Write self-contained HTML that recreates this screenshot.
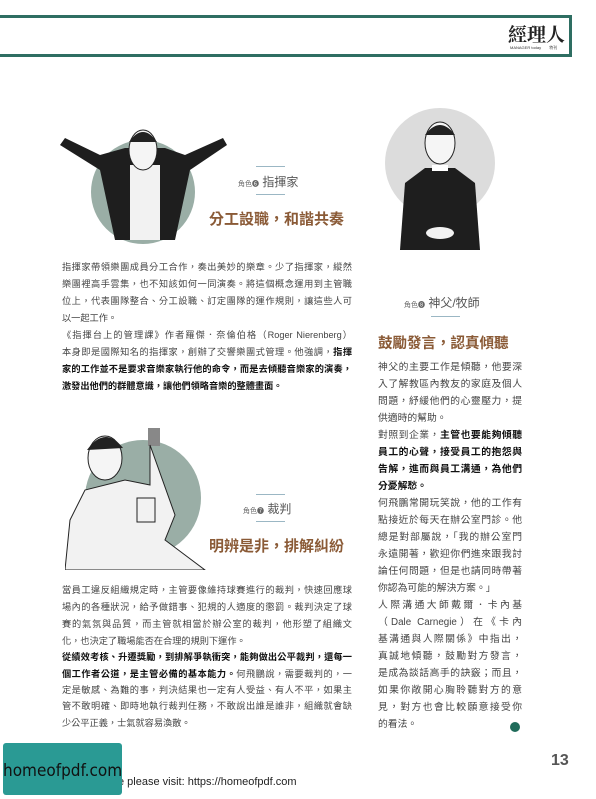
<!DOCTYPE html>
<html><head><meta charset="utf-8"><style>
*{margin:0;padding:0;box-sizing:border-box}
body{width:596px;height:794px;background:#fff;position:relative;overflow:hidden;font-family:"Liberation Sans","Noto Sans CJK TC",sans-serif;color:#444}
.abs{position:absolute}
.ln{position:absolute;white-space:nowrap;font-size:9.2px;text-align:justify;text-align-last:justify;line-height:14px;overflow:hidden}
.r .ln{font-size:9.8px}
.b{font-weight:bold;color:#111}
.h{position:absolute;font-size:15px;font-weight:bold;color:#8a5a36;white-space:nowrap}
.role{position:absolute;font-size:12px;color:#555;white-space:nowrap}
.role small{font-size:7px;color:#666}
.rule{position:absolute;height:1px;background:#9bb7c4}
</style></head><body>
<div class="abs" style="left:-4px;top:15px;width:576px;height:42px;border:3px solid #2e6e62"></div>
<div class="abs" style="left:508px;top:20px;font-size:19px;font-weight:bold;color:#222;font-family:'Noto Serif CJK SC',serif">經理人</div>
<div class="abs" style="left:510px;top:45px;font-size:4px;color:#333">MANAGER today　　特刊</div>

<svg class="abs" style="left:55px;top:120px" width="180" height="130">
<circle cx="88" cy="72" r="52" fill="#9aaea6"/>
<path d="M5 25 L45 50 L60 120 L120 120 L135 50 L172 25 L168 18 L130 35 L110 28 L70 28 L45 35 L10 18Z" fill="#1e1e1e"/>
<rect x="75" y="45" width="30" height="75" fill="#f2f2f2"/>
<ellipse cx="88" cy="30" rx="14" ry="20" fill="#f5f5f5" stroke="#222"/>
<path d="M74 22 Q88 2 102 22 Z" fill="#222"/>
</svg>
<div class="rule" style="left:256px;top:166px;width:29px"></div>
<div class="role" style="left:238px;top:173px"><small>角色❻</small> 指揮家</div>
<div class="rule" style="left:256px;top:194px;width:29px"></div>
<div class="h" style="left:209px;top:208px">分工設職，和諧共奏</div>

<div>
<div class="ln" style="left:62px;top:260px;width:290px">指揮家帶領樂團成員分工合作，奏出美妙的樂章。少了指揮家，縱然</div>
<div class="ln" style="left:62px;top:277px;width:290px">樂團裡高手雲集，也不知該如何一同演奏。將這個概念運用到主管職</div>
<div class="ln" style="left:62px;top:294px;width:290px">位上，代表團隊整合、分工設職、訂定團隊的運作規則，讓這些人可</div>
<div class="ln" style="left:62px;top:311px;text-align-last:left">以一起工作。</div>
<div class="ln" style="left:62px;top:328px;width:290px">《指揮台上的管理課》作者羅傑．奈倫伯格（Roger Nierenberg）</div>
<div class="ln" style="left:62px;top:345px;width:290px">本身即是國際知名的指揮家，創辦了交響樂團式管理。他強調，<span class="b">指揮</span></div>
<div class="ln b" style="left:62px;top:362px;width:290px">家的工作並不是要求音樂家執行他的命令，而是去傾聽音樂家的演奏，</div>
<div class="ln b" style="left:62px;top:379px;text-align-last:left">激發出他們的群體意識，讓他們領略音樂的整體畫面。</div>
</div>

<svg class="abs" style="left:65px;top:420px" width="170" height="150">
<circle cx="78" cy="78" r="58" fill="#9aaea6"/>
<rect x="83" y="8" width="12" height="18" fill="#888"/>
<path d="M85 25 L110 95 L100 120 L140 150 L0 150 L5 100 L20 70 L60 60 L85 65 Z" fill="#f2f2f2" stroke="#222"/>
<ellipse cx="40" cy="38" rx="17" ry="22" fill="#f5f5f5" stroke="#222"/>
<path d="M22 30 Q40 5 58 28 Z" fill="#222"/>
<rect x="72" y="78" width="18" height="24" fill="none" stroke="#222"/>
</svg>
<div class="rule" style="left:256px;top:494px;width:29px"></div>
<div class="role" style="left:243px;top:500px"><small>角色❼</small> 裁判</div>
<div class="rule" style="left:256px;top:521px;width:29px"></div>
<div class="h" style="left:209px;top:535px">明辨是非，排解糾紛</div>

<div>
<div class="ln" style="left:62px;top:583px;width:290px">當員工違反組織規定時，主管要像維持球賽進行的裁判，快速回應球</div>
<div class="ln" style="left:62px;top:600px;width:290px">場內的各種狀況，給予做錯事、犯規的人適度的懲罰。裁判決定了球</div>
<div class="ln" style="left:62px;top:617px;width:290px">賽的氣氛與品質，而主管就相當於辦公室的裁判，他形塑了組織文</div>
<div class="ln" style="left:62px;top:634px;text-align-last:left">化，也決定了職場能否在合理的規則下運作。</div>
<div class="ln b" style="left:62px;top:650px;width:290px">從績效考核、升遷獎勵，到排解爭執衝突，能夠做出公平裁判，還每一</div>
<div class="ln" style="left:62px;top:667px;width:290px"><span class="b">個工作者公道，是主管必備的基本能力。</span>何飛鵬說，需要裁判的，一</div>
<div class="ln" style="left:62px;top:683px;width:290px">定是敏感、為難的事，判決結果也一定有人受益、有人不平，如果主</div>
<div class="ln" style="left:62px;top:699px;width:290px">管不敢明確、即時地執行裁判任務，不敢說出誰是誰非，組織就會缺</div>
<div class="ln" style="left:62px;top:716px;text-align-last:left">少公平正義，士氣就容易渙散。</div>
</div>

<svg class="abs" style="left:380px;top:105px" width="120" height="150">
<circle cx="60" cy="58" r="55" fill="#dcdcdc"/>
<path d="M20 145 L25 78 L45 63 L75 63 L95 78 L100 145 Z" fill="#1e1e1e"/>
<rect x="52" y="60" width="16" height="6" fill="#fff"/>
<ellipse cx="60" cy="38" rx="15" ry="21" fill="#f5f5f5" stroke="#222"/>
<path d="M45 30 Q60 10 75 30 Z" fill="#222"/>
<ellipse cx="60" cy="128" rx="14" ry="6" fill="#f2f2f2"/>
</svg>
<div class="role" style="left:404px;top:294px"><small>角色❽</small> 神父/牧師</div>
<div class="rule" style="left:431px;top:316px;width:29px"></div>
<div class="h" style="left:378px;top:332px;font-size:14.5px">鼓勵發言，認真傾聽</div>

<div class="r">
<div class="ln" style="left:378px;top:361px;width:144px">神父的主要工作是傾聽，他要深</div>
<div class="ln" style="left:378px;top:378px;width:144px">入了解教區內教友的家庭及個人</div>
<div class="ln" style="left:378px;top:395px;width:144px">問題，紓緩他們的心靈壓力，提</div>
<div class="ln" style="left:378px;top:412px;text-align-last:left">供適時的幫助。</div>
<div class="ln" style="left:378px;top:429px;width:144px">對照到企業，<span class="b">主管也要能夠傾聽</span></div>
<div class="ln b" style="left:378px;top:446px;width:144px">員工的心聲，接受員工的抱怨與</div>
<div class="ln b" style="left:378px;top:463px;width:144px">告解，進而與員工溝通，為他們</div>
<div class="ln b" style="left:378px;top:480px;text-align-last:left">分憂解愁。</div>
<div class="ln" style="left:378px;top:497px;width:144px">何飛鵬常開玩笑說，他的工作有</div>
<div class="ln" style="left:378px;top:514px;width:144px">點接近於每天在辦公室門診。他</div>
<div class="ln" style="left:378px;top:531px;width:144px">總是對部屬說，「我的辦公室門</div>
<div class="ln" style="left:378px;top:548px;width:144px">永遠開著，歡迎你們進來跟我討</div>
<div class="ln" style="left:378px;top:565px;width:144px">論任何問題，但是也請同時帶著</div>
<div class="ln" style="left:378px;top:582px;text-align-last:left">你認為可能的解決方案。」</div>
<div class="ln" style="left:378px;top:599px;width:144px">人際溝通大師戴爾．卡內基</div>
<div class="ln" style="left:378px;top:616px;width:144px">（Dale Carnegie）在《卡內</div>
<div class="ln" style="left:378px;top:633px;width:144px">基溝通與人際關係》中指出，</div>
<div class="ln" style="left:378px;top:650px;width:144px">真誠地傾聽，鼓勵對方發言，</div>
<div class="ln" style="left:378px;top:667px;width:144px">是成為談話高手的訣竅；而且，</div>
<div class="ln" style="left:378px;top:684px;width:144px">如果你敞開心胸聆聽對方的意</div>
<div class="ln" style="left:378px;top:701px;width:144px">見，對方也會比較願意接受你</div>
<div class="ln" style="left:378px;top:718px;text-align-last:left">的看法。</div>
</div>
<div class="abs" style="left:510px;top:722px;width:10px;height:10px;border-radius:50%;background:#1f6b5a"></div>

<div class="abs" style="left:551px;top:752px;font-size:16px;font-weight:bold;color:#555">13</div>
<div class="abs" style="left:118px;top:776px;font-size:11px;color:#222">e please visit: https://homeofpdf.com</div>
<a class="abs" style="left:3px;top:743px;width:119px;height:52px;background:#2a9a94;border-radius:3px;color:#111;font-size:17px;line-height:56px;text-align:center;text-decoration:none;font-family:'DejaVu Sans Condensed','Liberation Sans',sans-serif">homeofpdf.com</a>
</body></html>
